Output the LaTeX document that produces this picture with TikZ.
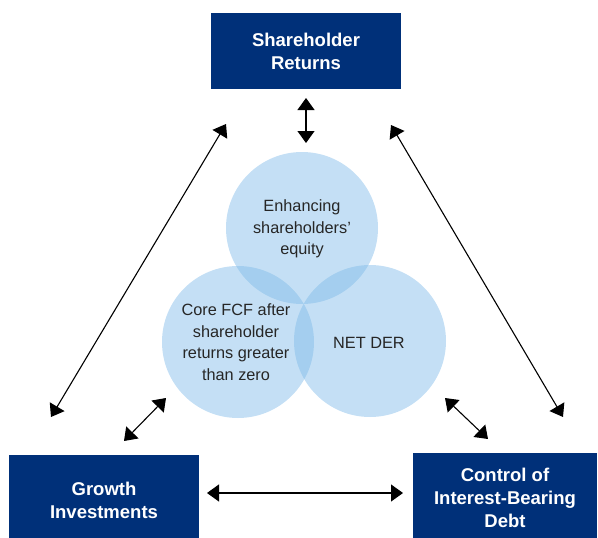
\documentclass[tikz,border=0pt]{standalone}
\usepackage{fontspec}
\setmainfont{Liberation Sans}
\usetikzlibrary{arrows.meta}
\definecolor{navy}{HTML}{003079}
\definecolor{venn}{HTML}{7DB9E8}
\definecolor{inktext}{HTML}{262626}
\begin{document}
\begin{tikzpicture}[x=1pt,y=-1pt,
  goalbox/.style={fill=navy,text=white,align=center,inner sep=0pt,
    font=\fontsize{18.5}{23}\selectfont\bfseries},
  venncircle/.style={circle,fill=venn,fill opacity=0.45,inner sep=0pt,minimum size=152pt},
  venntext/.style={text=inktext,align=center,inner sep=0pt,
    font=\fontsize{16.3}{21.5}\selectfont},
  link/.style={line width=1.1pt,{Triangle[length=12pt,width=17pt]}-{Triangle[length=12pt,width=17pt]}}]
\useasboundingbox (0,0) rectangle (598,538);
\clip (0,0) rectangle (598,538);

% three goals
\node[goalbox,minimum width=190pt,minimum height=76pt] (sr) at (306,51)
  {Shareholder\\Returns};
\node[goalbox,minimum width=190pt,minimum height=90pt] (gi) at (104,500)
  {Growth\\Investments};
\node[goalbox,minimum width=184pt,minimum height=90pt] (cd) at (505,498)
  {Control of\\Interest-Bearing\\Debt};

% overlapping indicators
\node[venncircle] (ctop) at (302,228) {};
\node[venncircle] (cleft) at (238,342) {};
\node[venncircle] (cright) at (370,341) {};
\node[venntext] (ttop) at (302,229) {Enhancing\\shareholders’\\equity};
\node[venntext] (tleft) at (236,342) {Core FCF after\\shareholder\\returns greater\\than zero};
\node[venntext] (tright) at (369,343) {NET DER};

% connector ends
\coordinate (a1) at (306,98);
\coordinate (a2) at (306,143);
\coordinate (l1) at (226,124);
\coordinate (l2) at (51,417);
\coordinate (r1) at (391,125);
\coordinate (r2) at (563,417);
\coordinate (s1) at (166,398);
\coordinate (s2) at (124,441);
\coordinate (t1) at (445,398);
\coordinate (t2) at (488,439);
\coordinate (h1) at (207,493);
\coordinate (h2) at (403,493);

\draw[link] (a1) -- (a2);
\draw[link] (l1) -- (l2);
\draw[link] (r1) -- (r2);
\draw[link] (s1) -- (s2);
\draw[link] (t1) -- (t2);
\draw[link] (h1) -- (h2);
\end{tikzpicture}
\end{document}
